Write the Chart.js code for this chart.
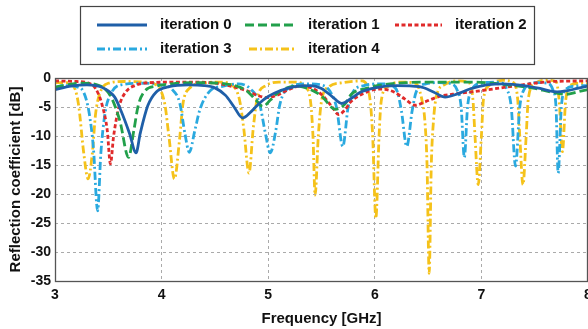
<!DOCTYPE html>
<html><head><meta charset="utf-8">
<script src="https://cdn.jsdelivr.net/npm/chart.js@4/dist/chart.umd.min.js"></script>
<style>html,body{margin:0;padding:0;background:#fff;overflow:hidden}#wrap{width:588px;height:329px;position:relative}</style>
</head><body><div id="wrap"><canvas id="c"></canvas></div>
<script>
const seriesNames = ['iteration 0', 'iteration 1', 'iteration 2', 'iteration 3', 'iteration 4'];
const xTicks = [3, 4, 5, 6, 7, 8];
const yTicks = [0, -5, -10, -15, -20, -25, -30, -35];

const iter0Freq = [3.0, 3.15, 3.3, 3.45, 3.56, 3.62, 3.70, 3.76, 3.80, 3.87, 3.95, 4.07, 4.25, 4.4, 4.5, 4.6, 4.68, 4.76, 4.84, 4.92, 5.0, 5.11, 5.25, 5.4, 5.5, 5.6, 5.69, 5.78, 5.86, 6.0, 6.2, 6.42, 6.55, 6.66, 6.78, 6.89, 7.05, 7.2, 7.4, 7.55, 7.64, 7.71, 7.8, 7.9, 8.0];
const iter0Db   = [-2.0, -1.4, -1.2, -1.7, -3.3, -5.7, -9.6, -12.9, -9.5, -4.8, -2.4, -1.5, -1.2, -1.3, -1.7, -3.0, -5.0, -6.9, -5.8, -4.3, -3.2, -2.2, -1.5, -1.3, -1.8, -3.2, -4.4, -3.5, -2.5, -1.7, -1.3, -1.5, -2.4, -3.3, -2.7, -1.9, -1.2, -1.0, -1.3, -1.8, -2.2, -2.4, -2.2, -1.8, -1.4];

const iter1Freq = [3.0, 3.1, 3.25, 3.38, 3.47, 3.53, 3.61, 3.69, 3.74, 3.78, 3.84, 3.95, 4.1, 4.3, 4.6, 4.72, 4.8, 4.88, 4.95, 5.02, 5.11, 5.27, 5.42, 5.5, 5.63, 5.72, 5.78, 5.92, 6.1, 6.3, 6.6, 6.9, 7.1, 7.3, 7.5, 7.65, 7.8, 7.9, 8.0];
const iter1Db   = [-1.6, -1.2, -0.9, -1.1, -1.9, -3.4, -7.5, -13.7, -9.0, -4.8, -2.3, -1.4, -1.0, -0.8, -1.0, -1.5, -2.2, -3.7, -4.9, -3.8, -2.3, -1.4, -2.2, -3.1, -5.4, -4.5, -2.8, -1.8, -1.1, -0.8, -0.7, -0.7, -0.9, -1.3, -1.8, -2.4, -2.8, -2.4, -2.0];

const iter2Freq = [3.0, 3.2, 3.3, 3.38, 3.44, 3.49, 3.52, 3.55, 3.6, 3.66, 3.75, 3.9, 4.2, 4.45, 4.6, 4.8, 4.9, 4.99, 5.08, 5.17, 5.3, 5.42, 5.52, 5.6, 5.66, 5.72, 5.77, 5.9, 6.05, 6.18, 6.28, 6.38, 6.46, 6.6, 6.73, 6.99, 7.3, 7.5, 7.67, 8.0];
const iter2Db   = [-0.5, -0.6, -0.8, -1.8, -4.5, -9.0, -14.8, -10.0, -5.0, -2.5, -1.3, -0.8, -0.7, -0.8, -1.2, -2.2, -3.0, -3.4, -3.0, -2.2, -1.4, -1.8, -3.2, -5.0, -6.3, -5.5, -4.2, -2.6, -1.9, -2.4, -3.6, -4.7, -4.2, -3.2, -2.8, -2.2, -1.4, -0.9, -0.6, -0.5];

const iter3Freq = [3.0, 3.1, 3.2, 3.27, 3.32, 3.36, 3.40, 3.43, 3.47, 3.53, 3.65, 3.85, 4.0, 4.1, 4.17, 4.22, 4.26, 4.31, 4.36, 4.45, 4.58, 4.72, 4.84, 4.92, 4.97, 5.02, 5.07, 5.11, 5.2, 5.35, 5.5, 5.58, 5.64, 5.70, 5.75, 5.8, 5.9, 6.05, 6.15, 6.21, 6.25, 6.30, 6.35, 6.39, 6.48, 6.6, 6.72, 6.77, 6.81, 6.84, 6.87, 6.91, 7.0, 7.15, 7.24, 7.28, 7.32, 7.36, 7.40, 7.5, 7.62, 7.67, 7.70, 7.72, 7.75, 7.79, 7.88, 8.0];
const iter3Db   = [-1.6, -1.3, -1.5, -2.5, -6.0, -12.0, -22.9, -13.0, -6.0, -2.5, -1.1, -0.9, -1.2, -2.0, -4.3, -9.7, -12.8, -9.2, -5.4, -2.3, -1.4, -1.0, -2.0, -4.5, -9.2, -12.9, -9.2, -4.5, -1.6, -1.0, -1.2, -2.3, -5.0, -11.8, -5.0, -2.3, -1.3, -1.0, -1.3, -2.3, -5.7, -11.8, -5.7, -2.3, -1.0, -0.8, -1.0, -2.0, -5.0, -13.7, -5.0, -2.0, -0.9, -0.7, -2.0, -5.0, -15.2, -5.0, -2.0, -0.8, -0.9, -2.0, -5.0, -16.4, -5.0, -2.0, -1.4, -1.3];

const iter4Freq = [3.0, 3.1, 3.17, 3.22, 3.27, 3.31, 3.35, 3.38, 3.42, 3.5, 3.65, 3.85, 3.95, 4.03, 4.07, 4.12, 4.17, 4.2, 4.26, 4.38, 4.55, 4.66, 4.73, 4.77, 4.82, 4.86, 4.9, 4.98, 5.1, 5.25, 5.35, 5.4, 5.42, 5.44, 5.47, 5.5, 5.57, 5.7, 5.88, 5.93, 5.96, 5.98, 6.01, 6.04, 6.06, 6.12, 6.25, 6.38, 6.44, 6.47, 6.49, 6.51, 6.53, 6.55, 6.58, 6.65, 6.78, 6.88, 6.92, 6.94, 6.97, 7.0, 7.02, 7.08, 7.2, 7.3, 7.34, 7.36, 7.39, 7.42, 7.44, 7.5, 7.62, 7.7, 7.73, 7.76, 7.79, 7.84, 7.92, 8.0];
const iter4Db   = [-0.8, -0.8, -1.3, -4.5, -13.0, -17.4, -13.0, -6.3, -2.7, -0.9, -0.6, -0.7, -1.2, -4.5, -10.3, -17.4, -10.3, -4.5, -1.8, -0.9, -0.7, -1.2, -3.7, -8.6, -16.4, -8.6, -3.2, -1.3, -0.7, -0.7, -1.5, -4.5, -10.0, -20.2, -10.0, -4.0, -1.5, -0.8, -0.5, -1.5, -4.5, -10.0, -24.2, -10.0, -4.0, -1.5, -0.7, -0.9, -3.6, -7.5, -15.0, -33.7, -15.0, -7.5, -3.0, -1.2, -0.5, -0.8, -3.6, -10.0, -18.4, -10.0, -3.6, -1.2, -0.4, -0.8, -3.6, -10.0, -18.4, -10.0, -3.6, -1.0, -0.4, -0.6, -4.0, -12.7, -4.0, -1.2, -0.9, -1.0];

const freqs = [iter0Freq, iter1Freq, iter2Freq, iter3Freq, iter4Freq];
const dbs = [iter0Db, iter1Db, iter2Db, iter3Db, iter4Db];

const colors = ['#1f5fa8', '#22a04b', '#e02a2a', '#2aa9df', '#f5c21a'];
const dashes = [[], [9, 4], [4, 2.5], [8, 3, 2, 3], [8, 3, 2, 3]];
const FONT = '"Liberation Sans", Arial, sans-serif';
Chart.defaults.font.family = FONT;

const datasets = seriesNames.map((name, i) => ({
  label: name,
  data: freqs[i].map((f, k) => ({x: f, y: dbs[i][k]})),
  borderColor: colors[i],
  borderWidth: 2.8,
  borderDash: dashes[i],
  pointRadius: 0,
  fill: false,
  cubicInterpolationMode: 'monotone'
}));

const framePlugin = {
  id: 'frame',
  afterDatasetsDraw(chart) {
    const a = chart.chartArea, ctx = chart.ctx;
    ctx.save();
    ctx.strokeStyle = '#555';
    ctx.lineWidth = 1.3;
    ctx.setLineDash([]);
    ctx.strokeRect(a.left + 0.5, a.top + 0.5, a.right - a.left - 1, a.bottom - a.top);
    ctx.restore();
  }
};

const legendPlugin = {
  id: 'boxLegend',
  afterDraw(chart) {
    const ctx = chart.ctx;
    ctx.save();
    ctx.fillStyle = '#fff';
    ctx.fillRect(80, 6, 455, 59);
    ctx.strokeStyle = '#444';
    ctx.lineWidth = 1.2;
    ctx.strokeRect(80.5, 6.5, 454, 58);
    const slots = [
      {x0: 97, x1: 147, tx: 160, y: 25},
      {x0: 245, x1: 293, tx: 308, y: 25},
      {x0: 395, x1: 442, tx: 455, y: 25},
      {x0: 97, x1: 147, tx: 160, y: 49},
      {x0: 249, x1: 294, tx: 308, y: 49}
    ];
    ctx.font = 'bold 15px ' + FONT;
    ctx.textBaseline = 'middle';
    ctx.textAlign = 'left';
    chart.data.datasets.forEach((ds, i) => {
      const s = slots[i];
      ctx.strokeStyle = ds.borderColor;
      ctx.lineWidth = 2.8;
      ctx.setLineDash(ds.borderDash);
      ctx.beginPath();
      ctx.moveTo(s.x0, s.y);
      ctx.lineTo(s.x1, s.y);
      ctx.stroke();
      ctx.setLineDash([]);
      ctx.fillStyle = '#111';
      ctx.fillText(ds.label, s.tx, s.y);
    });
    ctx.restore();
  }
};

new Chart(document.getElementById('c'), {
  type: 'line',
  data: {datasets},
  options: {
    responsive: true,
    maintainAspectRatio: false,
    animation: false,
    devicePixelRatio: 1,
    layout: {padding: {top: 78, left: 0, right: 0, bottom: 0}},
    plugins: {legend: {display: false}, tooltip: {enabled: false}},
    scales: {
      x: {
        type: 'linear', min: 3, max: 8,
        afterBuildTicks(s) { s.ticks = xTicks.map(v => ({value: v})); },
        afterFit(s) { s.height = 48; s.paddingLeft = 0; s.paddingRight = 0; },
        ticks: {color: '#111', font: {size: 14, weight: 'bold'}, padding: 6, maxRotation: 0},
        grid: {color: '#aaa', drawTicks: false, lineWidth: 1},
        border: {display: false, dash: [3, 3]},
        title: {display: true, text: 'Frequency [GHz]', color: '#111', font: {size: 15, weight: 'bold'}, padding: {top: 0, bottom: 1}}
      },
      y: {
        type: 'linear', min: -35, max: 0,
        afterBuildTicks(s) { s.ticks = yTicks.map(v => ({value: v})); },
        afterFit(s) { s.width = 55; },
        ticks: {color: '#111', font: {size: 14, weight: 'bold'}, padding: 4},
        grid: {color: '#aaa', drawTicks: false, lineWidth: 1},
        border: {display: false, dash: [3, 3]},
        title: {display: true, text: 'Reflection coefficient [dB]', color: '#111', font: {size: 15, weight: 'bold'}, padding: {top: 7, bottom: 0}}
      }
    }
  },
  plugins: [framePlugin, legendPlugin]
});
</script>
</body></html>
